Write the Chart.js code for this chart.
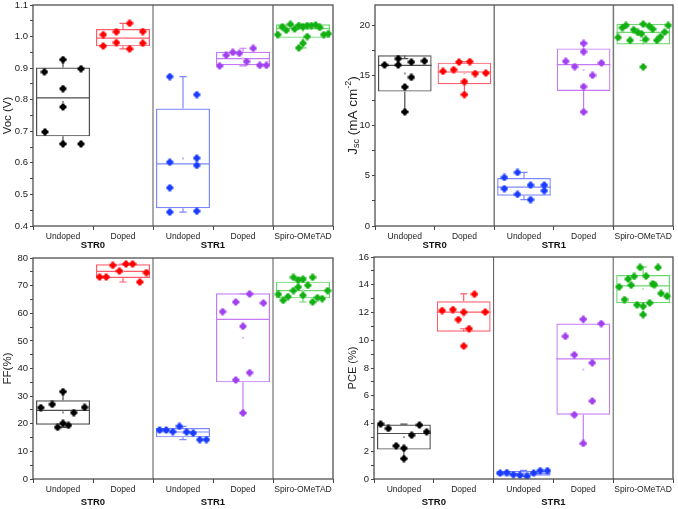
<!DOCTYPE html>
<html><head><meta charset="utf-8">
<script src="https://cdn.jsdelivr.net/npm/chart.js@4.4.1/dist/chart.umd.min.js"></script>
<style>
html,body{margin:0;padding:0;background:#fff;width:678px;height:509px;overflow:hidden}
canvas{position:absolute;display:block}
</style></head><body>
<canvas id="c1" width="339" height="250" style="left:0;top:0"></canvas>
<canvas id="c2" width="339" height="250" style="left:339px;top:0"></canvas>
<canvas id="c3" width="339" height="259" style="left:0;top:250px"></canvas>
<canvas id="c4" width="339" height="259" style="left:339px;top:250px"></canvas>
<script>
// ---------- data ----------
const categories = ['Undoped', 'Doped', 'Undoped', 'Doped', 'Spiro-OMeTAD'];
const groupLabels = ['STR0', 'STR1'];

// Voc (V)
const vocValues = [
  [0.888, 0.927, 0.898, 0.835, 0.777, 0.698, 0.660, 0.660],
  [1.006, 1.015, 1.042, 1.016, 0.970, 0.981, 0.961, 0.979],
  [0.873, 0.816, 0.602, 0.615, 0.592, 0.521, 0.444, 0.447],
  [0.907, 0.941, 0.950, 0.947, 0.921, 0.963, 0.909, 0.909],
  [1.006, 1.031, 1.020, 1.039, 1.024, 1.035, 1.031, 1.035, 1.035, 1.037, 1.029, 1.006, 1.009, 1.000, 0.979, 0.964]
];
const vocJitter = [
  [-0.31, 0, 0.3, 0, 0, -0.3, 0, 0.3],
  [-0.33, -0.11, 0.11, 0.33, -0.33, -0.11, 0.11, 0.33],
  [-0.22, 0.23, -0.22, 0.23, 0.23, -0.22, -0.22, 0.23],
  [-0.39, -0.28, -0.17, -0.06, 0.06, 0.17, 0.28, 0.39],
  [-0.42, -0.345, -0.28, -0.21, -0.14, -0.07, 0, 0.07, 0.14, 0.21, 0.28, 0.345, 0.42, 0.07, 0, -0.07]
];
// [whisker low, box low, median, box high, whisker high]
const vocBoxes = [
  [0.660, 0.684, 0.806, 0.902, 0.927],
  [0.961, 0.969, 0.995, 1.024, 1.042],
  [0.444, 0.456, 0.597, 0.772, 0.873],
  [0.907, 0.909, 0.930, 0.952, 0.963],
  [0.964, 0.996, 1.025, 1.039, 1.039]
];
const vocTicks = ['0.4', '0.5', '0.6', '0.7', '0.8', '0.9', '1.0', '1.1'];
const vocRange = [0.4, 1.1];

// Jsc (mA cm-2)
const jscValues = [
  [16.03, 16.03, 16.66, 16.32, 16.42, 14.80, 13.84, 11.36],
  [15.40, 15.56, 16.32, 16.36, 15.17, 15.23, 14.37, 13.08],
  [4.83, 5.33, 4.07, 4.07, 3.71, 3.51, 3.15, 2.62],
  [18.18, 17.35, 16.39, 15.86, 16.23, 15.00, 13.87, 11.36],
  [18.77, 19.74, 19.97, 18.48, 19.54, 19.27, 19.14, 20.10, 18.58, 19.90, 19.60, 18.48, 18.84, 19.30, 19.97, 15.83]
];
const jscJitter = [
  [-0.34, -0.11, -0.11, 0.11, 0.33, 0.11, 0, 0],
  [-0.36, -0.18, -0.09, 0.09, 0.18, 0.36, 0, 0],
  [-0.33, -0.11, 0.11, 0.34, -0.33, 0.34, -0.11, 0.11],
  [0, 0, -0.3, -0.15, 0.3, 0.15, 0, 0],
  [-0.42, -0.35, -0.29, -0.22, -0.16, -0.09, -0.03, 0, 0.04, 0.1, 0.16, 0.23, 0.29, 0.36, 0.42, 0]
];
const jscBoxes = [
  [11.36, 13.38, 15.99, 16.99, 16.66],
  [13.08, 14.11, 15.33, 16.26, 16.36],
  [2.62, 3.01, 3.87, 4.77, 5.33],
  [11.36, 13.44, 16.06, 17.68, 18.18],
  [18.48, 18.08, 19.27, 20.13, 20.10]
];
const jscTicks = ['0', '5', '10', '15', '20'];
const jscRange = [0, 22];

// FF (%)
const ffValues = [
  [25.82, 27.03, 31.61, 24.01, 25.94, 20.15, 18.70, 19.43],
  [73.12, 73.12, 77.34, 75.29, 77.83, 77.83, 71.31, 74.69],
  [17.74, 17.74, 17.13, 19.06, 17.01, 16.65, 14.24, 14.24],
  [60.57, 64.07, 66.97, 63.71, 55.26, 38.49, 35.84, 23.89],
  [66.85, 64.68, 66.00, 73.00, 68.17, 72.04, 69.50, 72.28, 66.49, 70.11, 73.00, 64.07, 65.64, 65.28, 68.17]
];
const ffJitter = [
  [-0.37, -0.18, 0, 0.18, 0.36, 0, -0.09, 0.09],
  [-0.39, -0.28, -0.17, -0.06, 0.05, 0.16, 0.28, 0.39],
  [-0.39, -0.28, -0.17, -0.06, 0.06, 0.17, 0.28, 0.39],
  [-0.34, -0.12, 0.11, 0.34, 0, 0.11, -0.12, 0],
  [-0.41, -0.33, -0.25, -0.16, -0.16, -0.08, -0.08, 0, 0, 0.08, 0.16, 0.16, 0.24, 0.32, 0.41]
];
const ffBoxes = [
  [18.70, 19.67, 24.86, 28.48, 31.61],
  [71.31, 72.76, 75.17, 77.70, 77.83],
  [14.24, 15.08, 17.01, 18.46, 19.06],
  [23.89, 34.99, 57.80, 67.21, 66.97],
  [64.07, 65.40, 68.17, 71.43, 73.00]
];
const ffTicks = ['0', '10', '20', '30', '40', '50', '60', '70', '80'];
const ffRange = [0, 80];

// PCE (%)
const pceValues = [
  [3.96, 3.64, 2.39, 2.22, 1.47, 3.16, 3.89, 3.40],
  [12.14, 12.21, 12.02, 11.49, 10.83, 13.32, 12.04, 9.58],
  [0.43, 0.46, 0.31, 0.27, 0.19, 0.43, 0.60, 0.60],
  [10.28, 8.95, 11.51, 8.37, 11.20, 5.62, 4.63, 2.56],
  [13.85, 12.93, 14.41, 13.97, 14.60, 12.55, 15.25, 12.45, 11.85, 14.62, 12.69, 14.07, 14.00, 15.25, 13.37, 13.18]
];
const pceJitter = [
  [-0.39, -0.26, -0.13, 0, 0, 0.13, 0.26, 0.38],
  [-0.36, -0.18, 0, -0.09, 0.09, 0.18, 0.36, 0],
  [-0.39, -0.28, -0.17, -0.06, 0.06, 0.17, 0.28, 0.4],
  [-0.3, -0.15, 0, 0.15, 0.3, 0.15, -0.15, 0],
  [-0.4, -0.31, -0.25, -0.2, -0.15, -0.1, -0.05, 0, 0, 0.05, 0.11, 0.16, 0.19, 0.25, 0.3, 0.4]
];
const pceBoxes = [
  [1.47, 2.12, 3.28, 3.93, 3.96],
  [10.83, 10.62, 12.02, 12.81, 13.34],
  [0.19, 0.24, 0.39, 0.58, 0.62],
  [2.56, 4.63, 8.66, 11.20, 11.51],
  [11.85, 12.67, 13.92, 14.70, 15.27]
];
const pceTicks = ['0', '2', '4', '6', '8', '10', '12', '14', '16'];
const pceRange = [0, 16];

// ---------- styles ----------
const FONT = "'Liberation Sans', Arial, sans-serif";
const pointColors = ['#000000', '#ff0000', '#1a3cff', '#a040f0', '#12b012'];
const boxColors = ['#4d4d4d', '#ff5b6b', '#7b88ff', '#c57af5', '#6ad86a'];
const meanColors = ['#999999', '#ffb0b8', '#b8c0ff', '#e0bdfa', '#b5ecb5'];

Chart.defaults.font.family = FONT;

function marker(color) {
  const c = document.createElement('canvas');
  c.width = 8; c.height = 8;
  const g = c.getContext('2d');
  g.fillStyle = color;
  g.beginPath();
  g.moveTo(4, 0.5); g.lineTo(7.5, 4); g.lineTo(4, 7.5); g.lineTo(0.5, 4); g.closePath();
  g.fill();
  g.fillRect(2.5, 0.6, 3, 6.8);
  g.fillRect(0.6, 2.5, 6.8, 3);
  return c;
}
const markers = pointColors.map(marker);

function build(id, p) {
  const canvas = document.getElementById(id);
  const W = canvas.width, H = canvas.height;
  const majors = p.ticks.map(Number);
  const step = majors[1] - majors[0];
  const tickVals = [];
  majors.forEach(m => {
    tickVals.push(m);
    if (m + step / 2 <= p.range[1] + 1e-9) tickVals.push(m + step / 2);
  });
  const labelFor = v => {
    const i = majors.findIndex(m => Math.abs(m - v) < step * 1e-3);
    return i >= 0 ? p.ticks[i] : '';
  };

  const datasets = [{
    type: 'bar',
    data: p.boxes.map((b, i) => ({ x: i + 1, y: [b[1], b[3]] })),
    backgroundColor: 'rgba(0,0,0,0)',
    borderColor: boxColors,
    borderWidth: 1.2,
    borderSkipped: false,
    barPercentage: 0.9,
    categoryPercentage: 1,
    grouped: false,
    order: 10
  }];
  p.values.forEach((vals, i) => {
    datasets.push({
      type: 'scatter',
      data: vals.map((v, j) => ({ x: i + 1 + p.jitter[i][j], y: v })),
      pointStyle: markers[i],
      pointRadius: 3.5,
      order: 0
    });
  });

  const extras = {
    id: 'extras' + id,
    beforeDatasetsDraw(chart) {
      const xs = chart.scales.x, ys = chart.scales.y, ctx = chart.ctx;
      const bars = chart.getDatasetMeta(0).data;
      const capHalf = Math.abs(xs.getPixelForValue(1.06) - xs.getPixelForValue(1));
      ctx.save();
      p.boxes.forEach((b, i) => {
        const cx = xs.getPixelForValue(i + 1);
        const half = bars[i].width / 2;
        ctx.strokeStyle = boxColors[i];
        ctx.lineWidth = 1.2;
        ctx.beginPath();
        ctx.moveTo(cx, ys.getPixelForValue(b[3])); ctx.lineTo(cx, ys.getPixelForValue(b[4]));
        ctx.moveTo(cx, ys.getPixelForValue(b[1])); ctx.lineTo(cx, ys.getPixelForValue(b[0]));
        [b[0], b[4]].forEach(v => {
          const y = ys.getPixelForValue(v);
          ctx.moveTo(cx - capHalf, y); ctx.lineTo(cx + capHalf, y);
        });
        const ym = ys.getPixelForValue(b[2]);
        ctx.moveTo(cx - half, ym); ctx.lineTo(cx + half, ym);
        ctx.stroke();
        const vals = p.values[i];
        const mean = vals.reduce((a, c) => a + c, 0) / vals.length;
        ctx.fillStyle = meanColors[i];
        ctx.fillRect(cx - 1, ys.getPixelForValue(mean) - 1, 2, 2);
      });
      ctx.restore();
    },
    afterDraw(chart) {
      const a = chart.chartArea, ctx = chart.ctx, xs = chart.scales.x;
      ctx.save();
      // separators
      [2.5, 4.5].forEach((v, k) => {
        const x = xs.getPixelForValue(v);
        ctx.strokeStyle = p.sep[k].c; ctx.lineWidth = p.sep[k].w;
        ctx.beginPath(); ctx.moveTo(x, a.top); ctx.lineTo(x, a.bottom); ctx.stroke();
      });
      // frame
      ctx.strokeStyle = '#505050'; ctx.lineWidth = 1.3;
      ctx.strokeRect(a.left, a.top, a.right - a.left, a.bottom - a.top);
      // group labels
      ctx.fillStyle = '#111';
      ctx.font = 'bold 9.5px ' + FONT;
      ctx.textAlign = 'center'; ctx.textBaseline = 'middle';
      groupLabels.forEach((g, k) => {
        ctx.fillText(g, xs.getPixelForValue(1.5 + 2 * k), a.bottom + p.groupOff);
      });
      // y title (with sub/superscripts)
      ctx.translate(p.titleX, (a.top + a.bottom) / 2);
      ctx.rotate(-Math.PI / 2);
      ctx.textAlign = 'left';
      ctx.fillStyle = '#222';
      const fs = p.titleSize || 11.5;
      const fontOf = s => (s.sub || s.sup ? Math.round(fs * 0.7) + 'px ' : fs + 'px ') + FONT;
      let total = 0;
      p.title.forEach(s => { ctx.font = fontOf(s); s.w = ctx.measureText(s.t).width; total += s.w; });
      let x = -total / 2;
      p.title.forEach(s => {
        ctx.font = fontOf(s);
        ctx.fillText(s.t, x, s.sub ? fs * 0.28 : (s.sup ? -fs * 0.35 : 0));
        x += s.w;
      });
      ctx.restore();
    }
  };

  return new Chart(canvas, {
    data: { datasets },
    plugins: [extras],
    options: {
      responsive: false,
      animation: false,
      events: [],
      layout: { padding: { left: 0, top: p.area[2], right: W - p.area[1], bottom: 0 } },
      plugins: { legend: { display: false }, tooltip: { enabled: false } },
      scales: {
        x: {
          type: 'linear', min: 0.5, max: 5.5, offset: false,
          afterBuildTicks: s => { s.ticks = categories.map((c, i) => ({ value: i + 1 })); },
          afterFit: s => { s.height = H - p.area[3]; s.paddingLeft = 0; s.paddingRight = 0; },
          ticks: {
            autoSkip: false, maxRotation: 0, minRotation: 0, padding: 2,
            color: '#222', font: { size: 8.5, family: FONT },
            callback: v => categories[Math.round(v) - 1]
          },
          grid: { drawOnChartArea: false, drawTicks: true, tickLength: 4, tickColor: '#444', tickWidth: 1 },
          border: { display: false }
        },
        y: {
          type: 'linear', min: p.range[0], max: p.range[1],
          afterBuildTicks: s => { s.ticks = tickVals.map(v => ({ value: v })); },
          afterFit: s => { s.width = p.area[0]; s.paddingTop = 0; s.paddingBottom = 0; },
          ticks: {
            autoSkip: false, padding: 2, color: '#222',
            font: { size: 9.5, family: FONT },
            callback: v => labelFor(v)
          },
          grid: { drawOnChartArea: false, drawTicks: true, tickLength: 3, tickColor: '#444', tickWidth: 1 },
          border: { display: false }
        }
      }
    }
  });
}

build('c1', {
  values: vocValues, jitter: vocJitter, boxes: vocBoxes, ticks: vocTicks, range: vocRange,
  area: [33, 333, 5, 226], titleX: 8, groupOff: 19,
  title: [{ t: 'Voc (V)' }],
  sep: [{ c: '#555', w: 1 }, { c: '#999', w: 2 }]
});
build('c2', {
  values: jscValues, jitter: jscJitter, boxes: jscBoxes, ticks: jscTicks, range: jscRange,
  area: [36, 334, 5, 226], titleX: 14, groupOff: 19, titleSize: 13.5,
  title: [{ t: 'J' }, { t: 'sc', sub: true }, { t: ' (mA cm' }, { t: '-2', sup: true }, { t: ')' }],
  sep: [{ c: '#666', w: 1.3 }, { c: '#777', w: 1.5 }]
});
build('c3', {
  values: ffValues, jitter: ffJitter, boxes: ffBoxes, ticks: ffTicks, range: ffRange,
  area: [33, 333, 8, 229], titleX: 8, groupOff: 23,
  title: [{ t: 'FF(%)' }],
  sep: [{ c: '#555', w: 1 }, { c: '#aaa', w: 2 }]
});
build('c4', {
  values: pceValues, jitter: pceJitter, boxes: pceBoxes, ticks: pceTicks, range: pceRange,
  area: [35, 334, 7, 229], titleX: 14, groupOff: 23, titleSize: 11,
  title: [{ t: 'PCE (%)' }],
  sep: [{ c: '#555', w: 1 }, { c: '#555', w: 1 }]
});
</script>
</body></html>
